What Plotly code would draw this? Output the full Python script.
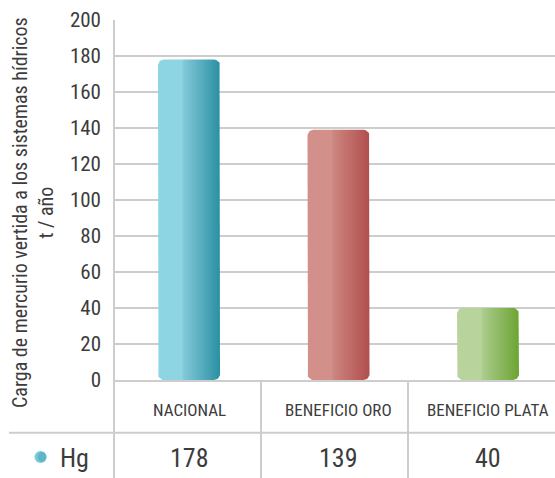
import math
import plotly.graph_objects as go

# Data
categories = ["NACIONAL", "BENEFICIO ORO", "BENEFICIO PLATA"]
hg_values = [178, 139, 40]
series_name = "Hg"
y_ticks = [0, 20, 40, 60, 80, 100, 120, 140, 160, 180, 200]

# Per-bar gradient colours (light left side -> dark right side)
light_colors = ["#8dd5e3", "#d3908a", "#b8d49c"]
mid_colors = ["#80c8d7", "#cc857f", "#aacb8a"]
dark_colors = ["#2a90a3", "#b14e4e", "#6ca432"]

FONT = "Liberation Sans Narrow, Arial Narrow, Roboto Condensed, DejaVu Sans Condensed, sans-serif"
TEXT = "#3c3c3c"
GRID = "#cdcdcd"

W, H = 555, 478
ML, MR, MT, MB = 114, 0, 20, 98
PW, PH = W - ML - MR, H - MT - MB
x_range = [-0.5017, 2.4482]
y_range = [0, 200]
px_x = PW / (x_range[1] - x_range[0])
px_y = PH / (y_range[1] - y_range[0])

bar_w = 62 / px_x
rad_px = 6
rx, ry = rad_px / px_x, rad_px / px_y


def rounded_rect(xc, top):
    """Outline of a bar with rounded corners, in data units."""
    x0, x1 = xc - bar_w / 2, xc + bar_w / 2
    y0, y1 = 0, top
    xs, ys = [], []
    corners = [
        (x1 - rx, y0 + ry, -90, 0),
        (x1 - rx, y1 - ry, 0, 90),
        (x0 + rx, y1 - ry, 90, 180),
        (x0 + rx, y0 + ry, 180, 270),
    ]
    for cx, cy, a0, a1 in corners:
        for k in range(9):
            a = math.radians(a0 + (a1 - a0) * k / 8)
            xs.append(cx + rx * math.cos(a))
            ys.append(cy + ry * math.sin(a))
    xs.append(xs[0])
    ys.append(ys[0])
    return xs, ys


def px_to_paper_x(px):
    return (px - ML) / PW


def px_to_paper_y(py):
    return (H - MB - py) / PH


fig = go.Figure()

for i, (cat, val) in enumerate(zip(categories, hg_values)):
    xs, ys = rounded_rect(i, val)
    fig.add_trace(go.Scatter(
        x=xs, y=ys, mode="lines", fill="toself",
        line=dict(width=0, color=dark_colors[i]),
        fillgradient=dict(
            type="horizontal",
            colorscale=[[0, light_colors[i]], [0.38, light_colors[i]],
                        [0.42, mid_colors[i]], [1, dark_colors[i]]],
        ),
        hoverinfo="skip", showlegend=False,
    ))

annotations = []
row1_y = px_to_paper_y(410)
row2_y = px_to_paper_y(458)
for i, (cat, val) in enumerate(zip(categories, hg_values)):
    annotations.append(dict(x=i, y=row1_y, xref="x", yref="paper", text=cat,
                            xanchor="center", yanchor="middle", showarrow=False,
                            font=dict(family=FONT, size=17, color=TEXT)))
    annotations.append(dict(x=i, y=row2_y, xref="x", yref="paper", text=str(val),
                            xanchor="center", yanchor="middle", showarrow=False,
                            font=dict(family=FONT, size=26, color=TEXT)))

annotations.append(dict(x=px_to_paper_x(74), y=row2_y, xref="paper", yref="paper",
                        text=series_name, showarrow=False, xanchor="center", yanchor="middle",
                        font=dict(family=FONT, size=26, color=TEXT)))

annotations.append(dict(
    x=px_to_paper_x(33), y=px_to_paper_y(213), xref="paper", yref="paper",
    xanchor="center", yanchor="middle",
    text="Carga de mercurio vertida a los sistemas hídricos<br>t / año",
    textangle=-90, showarrow=False, align="center",
    font=dict(family=FONT, size=20, color=TEXT),
))

line = dict(color=GRID, width=2)
row_sep = px_to_paper_y(432.7)
shapes = [
    # vertical axis line extending through the table
    dict(type="line", xref="paper", yref="paper", x0=0, x1=0, y0=-MB / PH, y1=1, line=line),
    # table row separator
    dict(type="line", xref="paper", yref="paper", x0=px_to_paper_x(9), x1=1,
         y0=row_sep, y1=row_sep, line=line),
    # column dividers
    dict(type="line", xref="paper", yref="paper", x0=1 / 3, x1=1 / 3, y0=-MB / PH, y1=0, line=line),
    dict(type="line", xref="paper", yref="paper", x0=2 / 3, x1=2 / 3, y0=-MB / PH, y1=0, line=line),
    # series key dot (light base, darker right half)
    dict(type="circle", xref="paper", yref="paper",
         x0=px_to_paper_x(34.5), x1=px_to_paper_x(46.5),
         y0=px_to_paper_y(451), y1=px_to_paper_y(463),
         fillcolor="#7ccbdb", line=dict(width=0)),
    dict(type="circle", xref="paper", yref="paper",
         x0=px_to_paper_x(37.5), x1=px_to_paper_x(46.5),
         y0=px_to_paper_y(452), y1=px_to_paper_y(462),
         fillcolor="rgba(58,157,177,0.45)", line=dict(width=0)),
]

fig.update_layout(
    width=W, height=H,
    margin=dict(l=ML, r=MR, t=MT, b=MB, pad=0),
    paper_bgcolor="white", plot_bgcolor="white",
    xaxis=dict(range=x_range, showticklabels=False, showgrid=False, zeroline=False,
               showline=True, linecolor=GRID, linewidth=2, ticks="", fixedrange=True),
    yaxis=dict(range=y_range, tickvals=y_ticks, showgrid=True, gridcolor=GRID, gridwidth=2,
               zeroline=False, showline=False, ticks="",
               tickfont=dict(family=FONT, size=21, color=TEXT), ticklabelstandoff=12),
    annotations=annotations,
    shapes=shapes,
    showlegend=False,
)

fig.write_html("out.html")
